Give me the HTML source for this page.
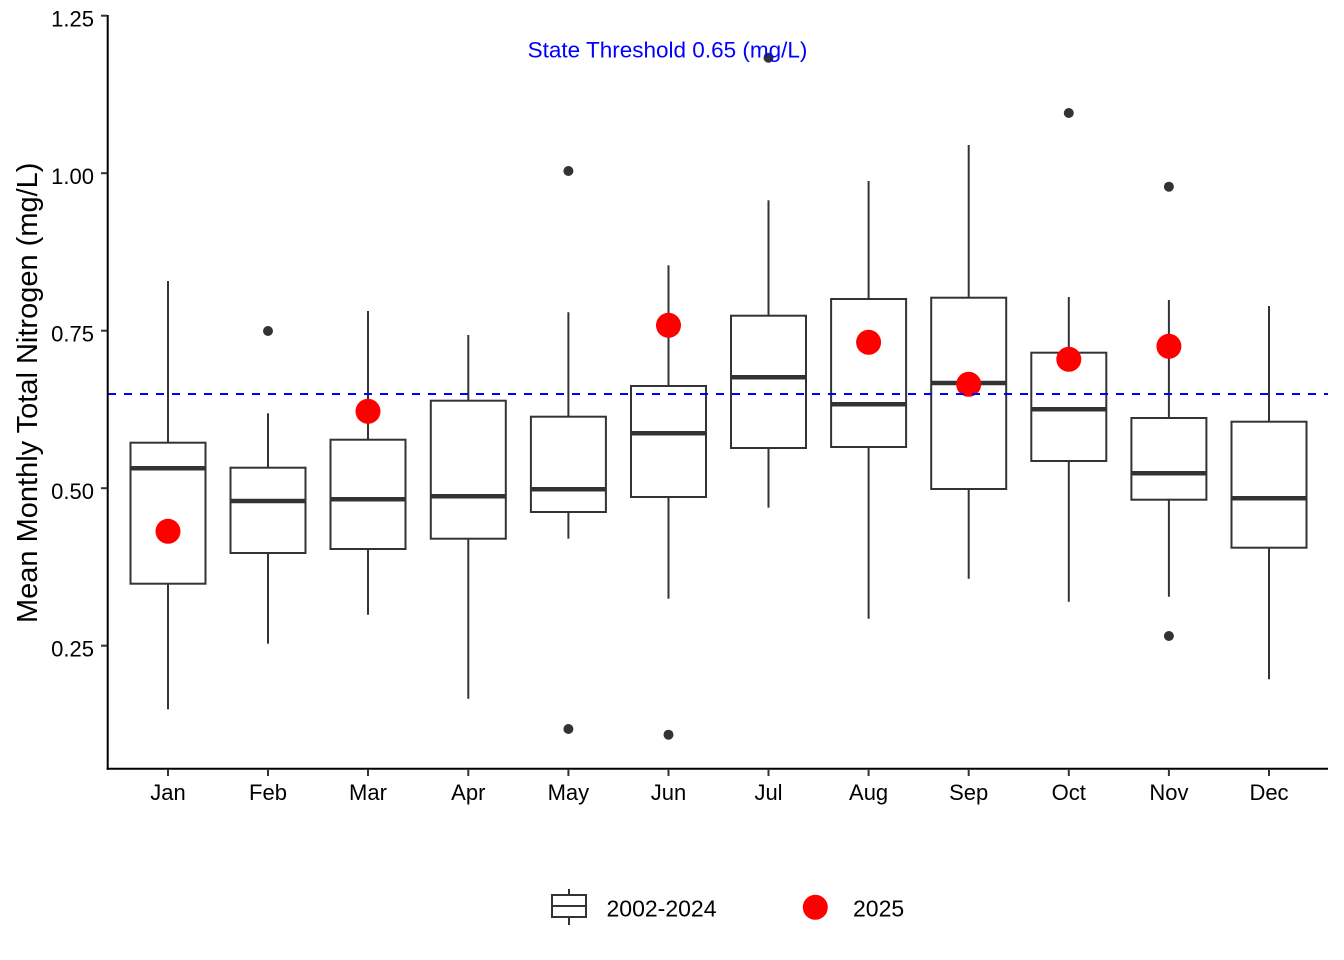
<!DOCTYPE html>
<html>
<head>
<meta charset="utf-8">
<style>
  html, body { margin: 0; padding: 0; background: #ffffff; }
  svg { display: block; }
  text { font-family: "Liberation Sans", Arial, sans-serif; }
</style>
</head>
<body>
<svg width="1344" height="960" viewBox="0 0 1344 960" xmlns="http://www.w3.org/2000/svg">
  <rect x="0" y="0" width="1344" height="960" fill="#ffffff"/>

  <!-- Boxplots -->
  <g stroke="#333333" fill="#ffffff">
    <!-- Jan -->
    <line x1="168" y1="281" x2="168" y2="442.7" stroke-width="2"/>
    <line x1="168" y1="583.7" x2="168" y2="709.3" stroke-width="2"/>
    <rect x="130.5" y="442.7" width="75" height="141" stroke-width="2"/>
    <line x1="130.5" y1="468.3" x2="205.5" y2="468.3" stroke-width="4.5"/>
    <!-- Feb -->
    <line x1="268" y1="413.3" x2="268" y2="467.7" stroke-width="2"/>
    <line x1="268" y1="553" x2="268" y2="643.7" stroke-width="2"/>
    <rect x="230.5" y="467.7" width="75" height="85.3" stroke-width="2"/>
    <line x1="230.5" y1="501" x2="305.5" y2="501" stroke-width="4.5"/>
    <!-- Mar -->
    <line x1="368" y1="311" x2="368" y2="439.7" stroke-width="2"/>
    <line x1="368" y1="549" x2="368" y2="614.7" stroke-width="2"/>
    <rect x="330.5" y="439.7" width="75" height="109.3" stroke-width="2"/>
    <line x1="330.5" y1="499.3" x2="405.5" y2="499.3" stroke-width="4.5"/>
    <!-- Apr -->
    <line x1="468.3" y1="335" x2="468.3" y2="400.7" stroke-width="2"/>
    <line x1="468.3" y1="538.7" x2="468.3" y2="698.7" stroke-width="2"/>
    <rect x="430.8" y="400.7" width="75" height="138" stroke-width="2"/>
    <line x1="430.8" y1="496.3" x2="505.8" y2="496.3" stroke-width="4.5"/>
    <!-- May -->
    <line x1="568.4" y1="312.3" x2="568.4" y2="416.7" stroke-width="2"/>
    <line x1="568.4" y1="512" x2="568.4" y2="538.7" stroke-width="2"/>
    <rect x="530.9" y="416.7" width="75" height="95.3" stroke-width="2"/>
    <line x1="530.9" y1="489.3" x2="605.9" y2="489.3" stroke-width="4.5"/>
    <!-- Jun -->
    <line x1="668.5" y1="265.3" x2="668.5" y2="386" stroke-width="2"/>
    <line x1="668.5" y1="497" x2="668.5" y2="598.7" stroke-width="2"/>
    <rect x="631" y="386" width="75" height="111" stroke-width="2"/>
    <line x1="631" y1="433.3" x2="706" y2="433.3" stroke-width="4.5"/>
    <!-- Jul -->
    <line x1="768.5" y1="200.3" x2="768.5" y2="315.7" stroke-width="2"/>
    <line x1="768.5" y1="448" x2="768.5" y2="507.7" stroke-width="2"/>
    <rect x="731" y="315.7" width="75" height="132.3" stroke-width="2"/>
    <line x1="731" y1="377.3" x2="806" y2="377.3" stroke-width="4.5"/>
    <!-- Aug -->
    <line x1="868.6" y1="181" x2="868.6" y2="299" stroke-width="2"/>
    <line x1="868.6" y1="447" x2="868.6" y2="618.7" stroke-width="2"/>
    <rect x="831.1" y="299" width="75" height="148" stroke-width="2"/>
    <line x1="831.1" y1="404.3" x2="906.1" y2="404.3" stroke-width="4.5"/>
    <!-- Sep -->
    <line x1="968.7" y1="145" x2="968.7" y2="297.7" stroke-width="2"/>
    <line x1="968.7" y1="489" x2="968.7" y2="578.7" stroke-width="2"/>
    <rect x="931.2" y="297.7" width="75" height="191.3" stroke-width="2"/>
    <line x1="931.2" y1="383" x2="1006.2" y2="383" stroke-width="4.5"/>
    <!-- Oct -->
    <line x1="1068.8" y1="297" x2="1068.8" y2="352.7" stroke-width="2"/>
    <line x1="1068.8" y1="461" x2="1068.8" y2="601.7" stroke-width="2"/>
    <rect x="1031.3" y="352.7" width="75" height="108.3" stroke-width="2"/>
    <line x1="1031.3" y1="409.3" x2="1106.3" y2="409.3" stroke-width="4.5"/>
    <!-- Nov -->
    <line x1="1168.9" y1="300" x2="1168.9" y2="418" stroke-width="2"/>
    <line x1="1168.9" y1="499.7" x2="1168.9" y2="596.7" stroke-width="2"/>
    <rect x="1131.4" y="418" width="75" height="81.7" stroke-width="2"/>
    <line x1="1131.4" y1="473.3" x2="1206.4" y2="473.3" stroke-width="4.5"/>
    <!-- Dec -->
    <line x1="1269" y1="306" x2="1269" y2="421.7" stroke-width="2"/>
    <line x1="1269" y1="547.7" x2="1269" y2="679.3" stroke-width="2"/>
    <rect x="1231.5" y="421.7" width="75" height="126" stroke-width="2"/>
    <line x1="1231.5" y1="498.3" x2="1306.5" y2="498.3" stroke-width="4.5"/>
  </g>

  <!-- Outliers -->
  <g fill="#333333">
    <circle cx="268" cy="331" r="5"/>
    <circle cx="568.4" cy="171" r="5"/>
    <circle cx="568.4" cy="729" r="5"/>
    <circle cx="668.5" cy="734.7" r="5"/>
    <circle cx="768.5" cy="57.7" r="5"/>
    <circle cx="1068.8" cy="113" r="5"/>
    <circle cx="1168.9" cy="186.7" r="5"/>
    <circle cx="1168.9" cy="636" r="5"/>
  </g>

  <!-- 2025 points -->
  <g fill="#ff0000">
    <circle cx="168" cy="531.3" r="12.5"/>
    <circle cx="368" cy="411.3" r="12.5"/>
    <circle cx="668.5" cy="325.3" r="12.5"/>
    <circle cx="868.6" cy="342.3" r="12.5"/>
    <circle cx="968.7" cy="384.3" r="12.5"/>
    <circle cx="1068.8" cy="359.3" r="12.5"/>
    <circle cx="1168.9" cy="346.3" r="12.5"/>
  </g>

  <!-- Threshold line -->
  <line x1="108" y1="394" x2="1328" y2="394" stroke="#0000ff" stroke-width="2" stroke-dasharray="8 8"/>

  <!-- Annotation -->
  <text x="667.5" y="57.5" font-size="22.5" fill="#0000ff" text-anchor="middle">State Threshold 0.65 (mg/L)</text>

  <!-- Axes -->
  <line x1="107.7" y1="15" x2="107.7" y2="769.7" stroke="#000000" stroke-width="2"/>
  <line x1="106.7" y1="768.7" x2="1328" y2="768.7" stroke="#000000" stroke-width="2"/>

  <!-- Y ticks -->
  <g stroke="#333333" stroke-width="2">
    <line x1="101" y1="15.7" x2="107" y2="15.7"/>
    <line x1="101" y1="173.2" x2="107" y2="173.2"/>
    <line x1="101" y1="330.7" x2="107" y2="330.7"/>
    <line x1="101" y1="488.2" x2="107" y2="488.2"/>
    <line x1="101" y1="645.7" x2="107" y2="645.7"/>
  </g>
  <g font-size="22" fill="#000000" text-anchor="end">
    <text x="94" y="26.7">1.25</text>
    <text x="94" y="184.2">1.00</text>
    <text x="94" y="341.7">0.75</text>
    <text x="94" y="499.2">0.50</text>
    <text x="94" y="656.7">0.25</text>
  </g>

  <!-- X ticks -->
  <g stroke="#333333" stroke-width="2">
    <line x1="168" y1="769" x2="168" y2="776"/>
    <line x1="268" y1="769" x2="268" y2="776"/>
    <line x1="368" y1="769" x2="368" y2="776"/>
    <line x1="468.3" y1="769" x2="468.3" y2="776"/>
    <line x1="568.4" y1="769" x2="568.4" y2="776"/>
    <line x1="668.5" y1="769" x2="668.5" y2="776"/>
    <line x1="768.5" y1="769" x2="768.5" y2="776"/>
    <line x1="868.6" y1="769" x2="868.6" y2="776"/>
    <line x1="968.7" y1="769" x2="968.7" y2="776"/>
    <line x1="1068.8" y1="769" x2="1068.8" y2="776"/>
    <line x1="1168.9" y1="769" x2="1168.9" y2="776"/>
    <line x1="1269" y1="769" x2="1269" y2="776"/>
  </g>
  <g font-size="22" fill="#000000" text-anchor="middle">
    <text x="168" y="800">Jan</text>
    <text x="268" y="800">Feb</text>
    <text x="368" y="800">Mar</text>
    <text x="468.3" y="800">Apr</text>
    <text x="568.4" y="800">May</text>
    <text x="668.5" y="800">Jun</text>
    <text x="768.5" y="800">Jul</text>
    <text x="868.6" y="800">Aug</text>
    <text x="968.7" y="800">Sep</text>
    <text x="1068.8" y="800">Oct</text>
    <text x="1168.9" y="800">Nov</text>
    <text x="1269" y="800">Dec</text>
  </g>

  <!-- Y axis title -->
  <text x="37" y="623" font-size="29" fill="#000000" text-anchor="start" transform="rotate(-90 37 623)">Mean Monthly Total Nitrogen (mg/L)</text>

  <!-- Legend -->
  <g stroke="#333333" stroke-width="2" fill="#ffffff">
    <line x1="569" y1="889" x2="569" y2="895"/>
    <line x1="569" y1="917" x2="569" y2="925"/>
    <rect x="552" y="895" width="34" height="22"/>
    <line x1="552" y1="906" x2="586" y2="906"/>
  </g>
  <text x="606.5" y="916.5" font-size="23" fill="#000000">2002-2024</text>
  <circle cx="815.3" cy="907.3" r="12.5" fill="#ff0000"/>
  <text x="853" y="916.5" font-size="23" fill="#000000">2025</text>
</svg>
</body>
</html>
